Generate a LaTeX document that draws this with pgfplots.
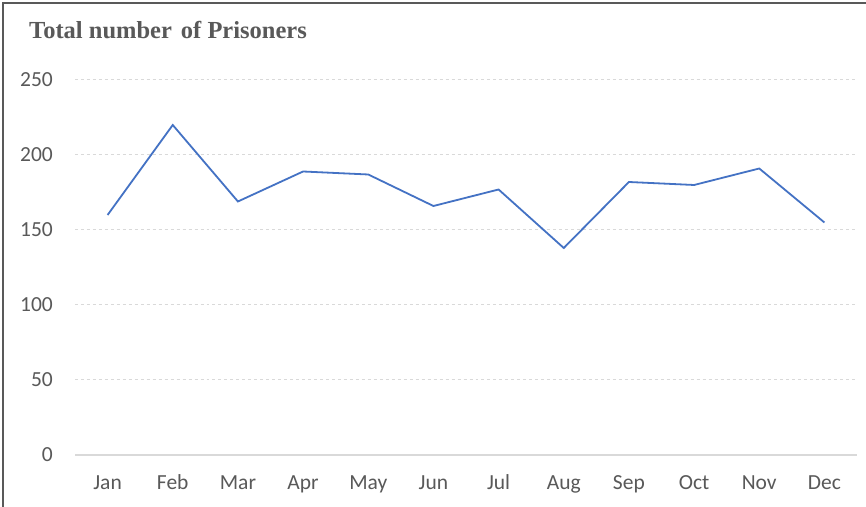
\documentclass[border=0pt]{standalone}
\usepackage{pgfplots}
\pgfplotsset{compat=1.18}
\usepackage{fontspec}
\newfontfamily\carlito{Carlito}
\newfontfamily\tnr{Liberation Serif}
\definecolor{linecol}{HTML}{4472C4}
\definecolor{txtcol}{HTML}{595959}
\definecolor{gridcol}{HTML}{D9D9D9}
\begin{document}
\begin{tikzpicture}[x=1bp,y=1bp]
\useasboundingbox (0,0) rectangle (866,507);
\fill[white] (0,0) rectangle (866,507);
\draw[line width=1.5bp, black!65] (3,0) -- (3,504) -- (866,504);
\node[anchor=base west, inner sep=0pt, text=txtcol, font={\tnr\bfseries\fontsize{24.5bp}{28bp}\selectfont}] at (29,468) {Total number\hspace{0.12em} of Prisoners};
\begin{axis}[
  at={(75bp,52bp)}, anchor=south west,
  scale only axis, width=782bp, height=375bp,
  xmin=-0.5, xmax=11.5, ymin=0, ymax=250,
  axis line style={draw=none},
  axis x line*=bottom, axis y line*=left,
  xtick={0,...,11},
  xticklabels={Jan,Feb,Mar,Apr,May,Jun,Jul,Aug,Sep,Oct,Nov,Dec},
  ytick={0,50,100,150,200,250},
  major tick length=0pt,
  ymajorgrids, grid style={gridcol, dashed, line width=1bp},
  /pgf/number format/assume math mode=true,
  tick label style={text=txtcol, font={\carlito\fontsize{21.5bp}{24bp}\selectfont}, inner sep=0pt},
  xticklabel style={anchor=base, yshift=-35bp},
  yticklabel style={anchor=base east, xshift=-22bp, yshift=-7bp},
  clip=false,
]
\draw[gridcol, line width=1.2bp] (axis cs:-0.5,0) -- (axis cs:11.5,0);
\addplot[linecol, line width=1.8bp, mark=none] coordinates {
(0,160) (1,220) (2,169) (3,189) (4,187) (5,166) (6,177) (7,138) (8,182) (9,180) (10,191) (11,155)
};
\end{axis}
\end{tikzpicture}
\end{document}
